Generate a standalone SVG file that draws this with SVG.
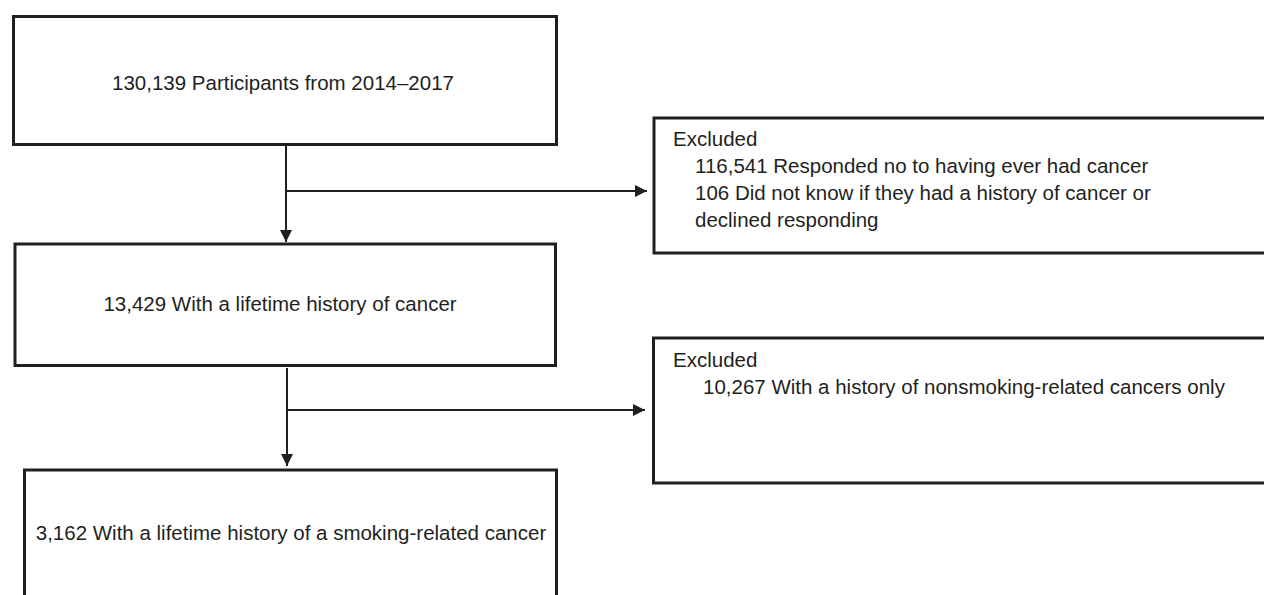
<svg xmlns="http://www.w3.org/2000/svg" width="1264" height="595" viewBox="0 0 1264 595">
<defs>
<style>
.box{fill:#fff;stroke:#231f20;stroke-width:3}
.con{stroke:#231f20;stroke-width:2;fill:none}
text{font-family:"Liberation Sans",Arial,sans-serif;font-size:20.5px;fill:#231f20}
.c{text-anchor:middle}
</style>
<marker id="ah" viewBox="0 0 10 10" refX="10" refY="5" markerWidth="7.5" markerHeight="6" markerUnits="strokeWidth" orient="auto">
<path d="M0,0 L10,5 L0,10 z" fill="#231f20"/>
</marker>
</defs>
<rect width="1264" height="595" fill="#fff"/>
<g id="connectors">
<line class="con" x1="286" y1="146" x2="286" y2="242" marker-end="url(#ah)"/>
<line class="con" x1="286" y1="191" x2="647" y2="191" marker-end="url(#ah)"/>
<line class="con" x1="287" y1="368" x2="287" y2="466" marker-end="url(#ah)"/>
<line class="con" x1="287" y1="410" x2="645" y2="410" marker-end="url(#ah)"/>
</g>
<g id="n1">
<rect class="box" x="13.5" y="16.5" width="543" height="128"/>
<text class="c" x="283" y="90">130,139 Participants from 2014–2017</text>
</g>
<g id="ex1">
<rect class="box" x="654" y="118" width="620" height="135"/>
<text x="673" y="146">Excluded</text>
<text x="695" y="173">116,541 Responded no to having ever had cancer</text>
<text x="695" y="200">106 Did not know if they had a history of cancer or</text>
<text x="695" y="227">declined responding</text>
</g>
<g id="n2">
<rect class="box" x="15" y="244" width="540.5" height="121.5"/>
<text class="c" x="280" y="311">13,429 With a lifetime history of cancer</text>
</g>
<g id="ex2">
<rect class="box" x="653.5" y="338" width="620" height="145"/>
<text x="673" y="367">Excluded</text>
<text x="703" y="394">10,267 With a history of nonsmoking-related cancers only</text>
</g>
<g id="n3">
<rect class="box" x="24.5" y="470" width="532" height="150"/>
<text class="c" x="291" y="540">3,162 With a lifetime history of a smoking-related cancer</text>
</g>
</svg>
